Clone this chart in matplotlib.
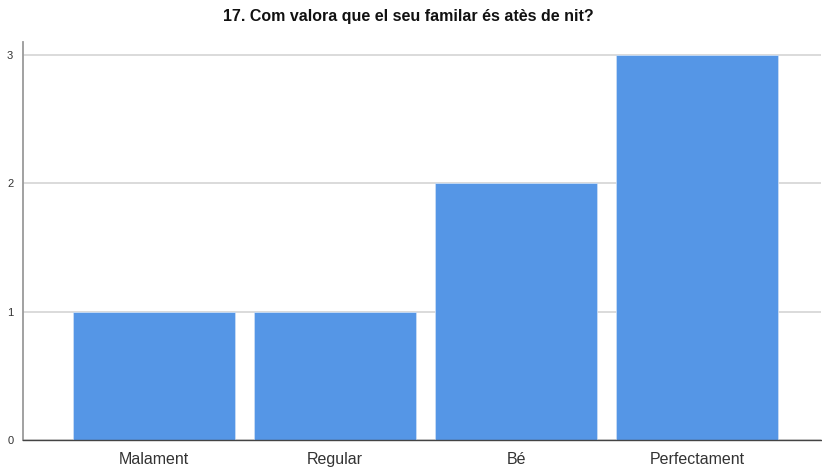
import matplotlib
matplotlib.use("Agg")
import matplotlib.pyplot as plt

plt.rcParams['font.family'] = ['Liberation Sans', 'DejaVu Sans']

categories = ["Malament", "Regular", "Bé", "Perfectament"]
counts = [1, 1, 2, 3]
yticks = [0, 1, 2, 3]

fig = plt.figure(figsize=(8.22, 4.67), dpi=100)
ax = fig.add_axes([0.028, 0.058, 0.971, 0.852])

x = range(len(categories))
ax.bar(x, counts, width=0.895, color='#5596e6', edgecolor='#c9dcf5', linewidth=0.6, zorder=2)

ax.set_xlim(-0.724, 3.685)
ax.set_ylim(0, 3.1)
ax.set_xticks(list(x))
ax.set_xticklabels(categories, fontsize=11.5, color='#333333')
ax.set_yticks(yticks)
ax.set_yticklabels([str(v) for v in yticks], fontsize=8, color='#333333')
ax.tick_params(axis='x', length=0, pad=9)
ax.tick_params(axis='y', length=0, pad=7)

ax.yaxis.grid(True, color='#d4d4d4', linewidth=1.2, zorder=0)
ax.set_axisbelow(True)
for s in ['top', 'right']:
    ax.spines[s].set_visible(False)
ax.spines['left'].set_color('#9a9a9a')
ax.spines['left'].set_linewidth(1.3)
ax.spines['bottom'].set_color('#444444')
ax.spines['bottom'].set_linewidth(1.0)

fig.suptitle("17. Com valora que el seu familar és atès de nit?", x=0.497, y=0.98,
             fontsize=11.5, fontweight='bold', color='#111111')

fig.savefig("out.png", dpi=100)
